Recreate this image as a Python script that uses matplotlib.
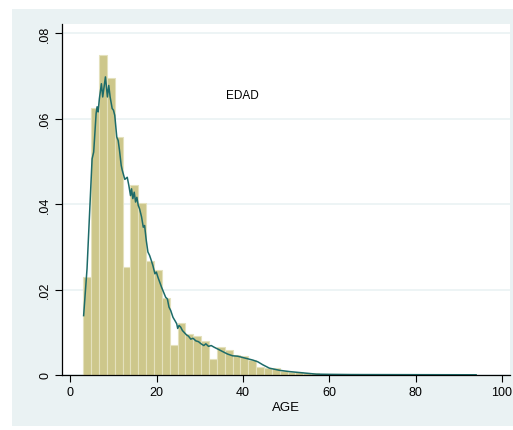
import numpy as np
import matplotlib.pyplot as plt
from matplotlib.patches import Rectangle

plt.rcParams['font.family'] = ['Liberation Sans', 'DejaVu Sans']

# histogram de EDAD: 50 clases entre 3 y 94
edad_min = 3
edad_max = 94
n_bins = 50
densidad = [0.0230, 0.0626, 0.0749, 0.0696, 0.0558, 0.0254, 0.0445, 0.0402,
            0.0267, 0.0247, 0.0180, 0.0070, 0.0122, 0.0096, 0.0092, 0.0079,
            0.0038, 0.0066, 0.0058, 0.0047, 0.0044, 0.0035, 0.0018, 0.0017,
            0.0016, 0.0010, 0.0008, 0.0006, 0.0005, 0.0004, 0.0003, 0.0003,
            0.0002, 0.0002, 0.0002, 0.0001, 0.0001, 0.0001, 0.0001, 0.0001,
            0.0001, 0.0001, 0.0001, 0.0001, 0.0001, 0.0001, 0.0001, 0.0001,
            0.0001, 0.0001]

# curva kdensity
kd_x = [3.09, 3.88, 5.05, 5.42, 5.98, 6.21, 6.44, 6.74, 7.21, 7.51, 8.14,
        8.60, 8.91, 9.23, 9.70, 10.0, 10.30, 10.77, 11.09, 11.40, 11.79,
        12.02, 12.63, 13.19, 13.56, 13.95, 14.19, 14.49, 14.81, 15.12, 15.42,
        15.74, 16.05, 16.51, 16.91, 17.21, 17.60, 17.98, 18.37, 18.77, 19.14,
        19.60, 19.93, 20.30, 21.16, 22.09, 22.49, 22.86, 23.26, 23.79, 24.26,
        24.65, 24.88, 25.19, 25.58, 25.98, 26.35, 26.91, 27.37, 27.91, 28.44,
        29.07, 29.70, 30.30, 30.93, 31.40, 32.02, 32.63, 33.33, 34.12, 34.88,
        35.65, 36.44, 37.60, 38.77, 39.93, 41.09, 42.26, 43.42, 44.58, 46.12,
        48.44, 50.77, 53.88, 56.98, 60.0, 65.1, 76.7, 94.0]
kd_y = [0.0139, 0.0249, 0.0506, 0.0522, 0.0612, 0.0628, 0.0616, 0.0647,
        0.0682, 0.0651, 0.0698, 0.0651, 0.0678, 0.0651, 0.0624, 0.0620,
        0.0608, 0.0557, 0.0549, 0.0526, 0.0491, 0.0480, 0.0458, 0.0463,
        0.0444, 0.0420, 0.0436, 0.0413, 0.0428, 0.0405, 0.0416, 0.0397,
        0.0389, 0.0370, 0.0346, 0.0350, 0.0315, 0.0288, 0.0280, 0.0268,
        0.0256, 0.0237, 0.0241, 0.0229, 0.0205, 0.0182, 0.0178, 0.0159,
        0.0151, 0.0135, 0.0127, 0.0120, 0.0109, 0.0116, 0.0112, 0.0104,
        0.0100, 0.0094, 0.0091, 0.0084, 0.0086, 0.0080, 0.0078, 0.0073,
        0.0069, 0.0073, 0.0067, 0.0069, 0.0065, 0.0061, 0.0057, 0.0053,
        0.0049, 0.0045, 0.0044, 0.0041, 0.0038, 0.0035, 0.0031, 0.0024,
        0.0016, 0.0011, 0.0008, 0.0005, 0.0002, 0.00015, 0.0001, 0.00008,
        0.00005]

x_ticks = [0, 20, 40, 60, 80, 100]
y_ticks = [0, 0.02, 0.04, 0.06, 0.08]
y_labels = ['0', '.02', '.04', '.06', '.08']

W, H = 513, 431
fig = plt.figure(figsize=(W / 100, H / 100), dpi=100, facecolor='white')

# fondo gris azulado del grafico
fondo = Rectangle((12 / W, (H - 427) / H), (W - 12) / W, (427 - 9.5) / H,
                  transform=fig.transFigure, facecolor='#eaf2f3',
                  edgecolor='none', zorder=-10)
fig.add_artist(fondo)

ax = fig.add_axes([62.3 / W, (H - 376) / H, (510 - 62.3) / W, (376 - 24.5) / H])
ax.set_zorder(1)
ax.set_facecolor('white')

edges = np.linspace(edad_min, edad_max, n_bins + 1)
ax.bar(edges[:-1], densidad, width=np.diff(edges), align='edge',
       color='#cdc78b', edgecolor='#e4e1bd', linewidth=0.8, zorder=2)
ax.plot(kd_x, kd_y, color='#1d6b69', linewidth=1.1, zorder=3)

ax.text(39.9, 0.0655, 'EDAD', ha='center', va='center', fontsize=8.5)

ax.set_xlim(-1.85, 101.85)
ax.set_ylim(0, 0.0823)
ax.set_xticks(x_ticks)
ax.set_yticks(y_ticks)
ax.set_yticklabels(y_labels, rotation=90, va='center')
ax.tick_params(axis='both', direction='out', length=5, width=0.8,
               labelsize=9, colors='black')
ax.tick_params(axis='x', pad=3)
ax.tick_params(axis='y', pad=3)

ax.grid(axis='y', color='#eaf2f3', linewidth=1.2, zorder=1)
ax.set_axisbelow(True)
for s in ['top', 'right']:
    ax.spines[s].set_visible(False)
for s in ['left', 'bottom']:
    ax.spines[s].set_linewidth(0.9)
    ax.spines[s].set_zorder(4)

ax.set_xlabel('AGE', fontsize=9.5, labelpad=2)

fig.savefig('out.png', dpi=100, facecolor=fig.get_facecolor())
